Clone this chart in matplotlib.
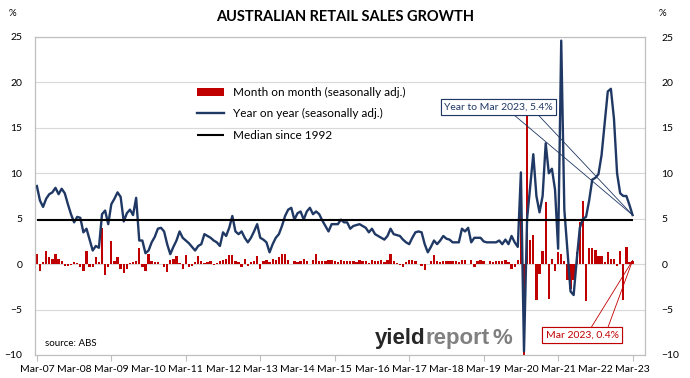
import matplotlib
matplotlib.use('Agg')
import matplotlib.pyplot as plt
import numpy as np

plt.rcParams['font.family'] = ['Lato', 'DejaVu Sans']

# monthly figures, Mar-07 .. Mar-23 (one row = Mar..Feb)
yoy = [
    8.6, 7.0, 6.3, 7.2, 7.7, 7.9, 8.4, 7.7, 8.3, 7.8, 6.6, 5.5,
    4.6, 5.2, 5.1, 3.5, 3.9, 2.7, 1.5, 2.0, 1.8, 5.5, 5.9, 4.4,
    6.6, 7.2, 7.9, 7.4, 4.7, 5.6, 6.0, 5.4, 7.3, 2.6, 2.6, 1.2,
    1.5, 2.4, 3.0, 3.9, 4.0, 3.6, 2.2, 1.1, 1.9, 2.6, 3.6, 2.9,
    2.6, 2.3, 1.9, 1.5, 2.0, 2.2, 3.3, 3.1, 2.9, 2.6, 2.4, 2.0,
    3.5, 3.1, 4.0, 5.3, 3.6, 3.3, 3.6, 2.9, 2.4, 2.9, 3.6, 4.4,
    2.9, 2.7, 2.4, 1.3, 2.2, 2.9, 3.3, 4.2, 5.3, 6.0, 6.2, 4.9,
    5.6, 5.8, 4.9, 5.8, 6.2, 5.5, 5.8, 5.5, 4.8, 4.2, 3.6, 4.4,
    4.4, 4.4, 4.9, 4.6, 4.6, 3.9, 4.2, 4.3, 4.4, 4.2, 4.0, 3.5,
    3.9, 3.3, 3.1, 2.9, 2.7, 3.1, 3.9, 3.3, 3.2, 3.1, 2.7, 2.4,
    2.2, 2.9, 3.5, 3.6, 3.5, 2.2, 1.3, 1.9, 2.6, 2.2, 2.6, 3.1,
    2.8, 2.7, 2.4, 2.4, 2.4, 3.9, 3.6, 4.0, 2.4, 2.9, 2.9, 2.9,
    2.5, 2.4, 2.4, 2.4, 2.4, 2.6, 2.2, 2.7, 2.2, 3.1, 2.4, 1.9,
    10.1, -9.6, 5.0, 8.5, 12.1, 7.5, 5.7, 7.5, 13.3, 10.0, 10.5, 8.2,
    1.7, 24.6, 6.0, 1.5, -3.0, -3.4, 0.5, 4.0, 5.0, 5.2, 7.0, 9.3,
    9.5, 9.9, 12.0, 15.5, 19.0, 19.3, 16.0, 10.0, 7.8, 7.5, 7.5, 6.5,
    5.4,
]

mom = [
    1.1, -0.7, 0.2, 1.5, 0.8, 0.6, 1.1, 0.6, 0.4, -0.2, -0.2, -0.1,
    0.2, 0.1, -0.3, -0.7, 1.5, -0.3, -0.3, 0.8, 0.2, 4.0, -1.2, -0.3,
    2.6, 0.4, 0.8, -0.5, -1.0, -0.5, 0.1, 0.2, 0.4, 1.8, -0.3, -0.7,
    1.1, 0.4, 0.2, 0.2, 0.0, -0.3, -0.9, 0.5, 0.6, 0.9, 0.1, -0.5,
    1.0, -0.3, -0.2, 0.2, 0.9, 0.3, 0.1, 0.2, 0.3, -0.1, 0.1, 0.4,
    0.5, 0.6, 1.0, 1.0, 0.3, 0.2, -0.3, 0.6, -0.2, 0.2, 0.4, 0.9,
    -0.5, 0.4, 0.5, 0.2, 0.6, 0.5, 0.8, 1.1, 1.1, 0.5, 0.0, 0.3,
    0.2, 0.3, 0.6, 0.4, 0.0, 0.5, 1.1, 0.4, 0.3, 0.3, 0.5, 0.5,
    0.4, 0.2, 0.5, 0.3, 0.3, 0.3, 0.3, 0.2, 0.5, 0.4, 0.4, 0.1,
    0.5, 0.3, 0.4, 0.5, 0.2, 0.5, 1.1, 0.3, 0.1, -0.1, -0.3, 0.2,
    0.5, 0.5, 0.4, 0.0, -0.2, -0.6, 0.0, 0.4, 1.0, 0.3, 0.2, 0.3,
    0.3, 0.4, 0.3, 0.4, 0.2, 0.5, 0.5, 0.0, 0.5, -0.3, 0.4, 0.5,
    0.3, 0.0, 0.3, 0.2, 0.4, 0.4, 0.3, 0.5, 0.2, -0.5, -0.3, 0.5,
    8.5, -17.7, 16.3, 2.7, 3.2, -4.0, -1.1, 1.4, 6.8, -3.8, 0.6, -0.8,
    1.3, 1.1, 0.4, -1.8, -2.7, -1.7, 1.3, 4.6, 7.0, -4.1, 1.8, 1.8,
    1.6, 0.9, 0.9, 0.2, 1.3, 0.6, 0.6, -0.2, 1.4, -3.9, 1.9, 0.2,
    0.4,
]

median = 4.9

year_labels = ['Mar-07', 'Mar-08', 'Mar-09', 'Mar-10', 'Mar-11', 'Mar-12',
               'Mar-13', 'Mar-14', 'Mar-15', 'Mar-16', 'Mar-17', 'Mar-18',
               'Mar-19', 'Mar-20', 'Mar-21', 'Mar-22', 'Mar-23']

RED = '#C00000'
NAVY = '#1F3864'
GRID = '#D9D9D9'

months = np.arange(len(yoy))
W, H = 690, 378

fig = plt.figure(figsize=(W / 100, H / 100), dpi=100)
ax = fig.add_axes([35 / W, 23 / H, 610 / W, 318 / H])

bars = ax.bar(months, mom, width=0.75, color=RED, zorder=2,
              label='Month on month (seasonally adj.)')
line, = ax.plot(months, yoy, color=NAVY, lw=1.7, zorder=3,
                label='Year on year (seasonally adj.)')
med = ax.hlines(median, months[0], months[-1], color='black', lw=1.5, zorder=4,
                label='Median since 1992')

ax.set_xlim(-0.6, 196)
ax.set_ylim(-10, 25)
ax.set_yticks(range(-10, 26, 5))
ax.grid(axis='y', color=GRID, lw=0.8)
ax.set_axisbelow(True)

# labels every year, tick marks every second year
tick_pos = months[::12]
ax.set_xticks(tick_pos[::2], year_labels[::2])
ax.set_xticks(tick_pos[1::2], year_labels[1::2], minor=True)
ax.tick_params(axis='x', which='major', length=4, color='#BFBFBF',
               labelsize=7.5, pad=3)
ax.tick_params(axis='x', which='minor', length=0, labelsize=7.5, pad=7)
ax.tick_params(axis='y', length=0, labelsize=7.5, pad=9)

ax2 = ax.twinx()
ax2.set_ylim(-10, 25)
ax2.set_yticks(range(-10, 26, 5))
ax2.tick_params(axis='y', length=0, labelsize=7.5, pad=12)
for a in (ax, ax2):
    for s in a.spines.values():
        s.set_color('#BFBFBF')
        s.set_linewidth(0.8)

fig.text(0.5, 1 - 17 / H, 'AUSTRALIAN RETAIL SALES GROWTH', ha='center',
         va='center', fontsize=10.5, fontweight='bold')
fig.text(12 / W, 1 - 13 / H, '%', ha='center', va='center', fontsize=7)
fig.text(662 / W, 1 - 13 / H, '%', ha='center', va='center', fontsize=7)
fig.text(45 / W, 1 - 343 / H, 'source: ABS', ha='left', va='center', fontsize=7)

ax.legend(handles=[bars, line, med], loc='upper left',
          bbox_to_anchor=(192 / W, 1 - 82 / H),
          bbox_transform=fig.transFigure, frameon=False, fontsize=8.5,
          handlelength=2.3, labelspacing=0.9, borderaxespad=0)

# callouts
txt1 = 'Year to Mar 2023, %.1f%%' % yoy[-1]
for rx in (0.61, 0.84):
    ax.annotate(txt1, xy=(months[-1], yoy[-1]), xycoords='data',
                xytext=(498, H - 107), textcoords='figure pixels',
                ha='center', va='center', fontsize=7.5, color=NAVY, zorder=6,
                bbox=dict(boxstyle='square,pad=0.3', fc='white', ec=NAVY, lw=0.8),
                arrowprops=dict(arrowstyle='-', color=NAVY, lw=0.6,
                                relpos=(rx, 0), shrinkA=0, shrinkB=0))

txt2 = 'Mar 2023, %.1f%%' % mom[-1]
for rx in (0.6, 0.84):
    ax.annotate(txt2, xy=(months[-1], mom[-1]), xycoords='data',
                xytext=(582, H - 335), textcoords='figure pixels',
                ha='center', va='center', fontsize=7.5, color=RED, zorder=6,
                bbox=dict(boxstyle='square,pad=0.3', fc='white', ec=RED, lw=0.8),
                arrowprops=dict(arrowstyle='-', color=RED, lw=0.6,
                                relpos=(rx, 1), shrinkA=0, shrinkB=0))

# logo, pieces placed one after another
fig.canvas.draw()
renderer = fig.canvas.get_renderer()
x0 = 375
for word, col in (('yield', '#262626'), ('report', '#808080'), ('%', '#7F7F7F')):
    t = fig.text(x0 / W, 1 - 344 / H, word, ha='left', va='baseline',
                 fontsize=16, fontweight='bold', color=col,
                 family=['Liberation Sans', 'DejaVu Sans'])
    x0 += t.get_window_extent(renderer).width + (3 if word == 'report' else 0)

fig.savefig('out.png', dpi=100)
